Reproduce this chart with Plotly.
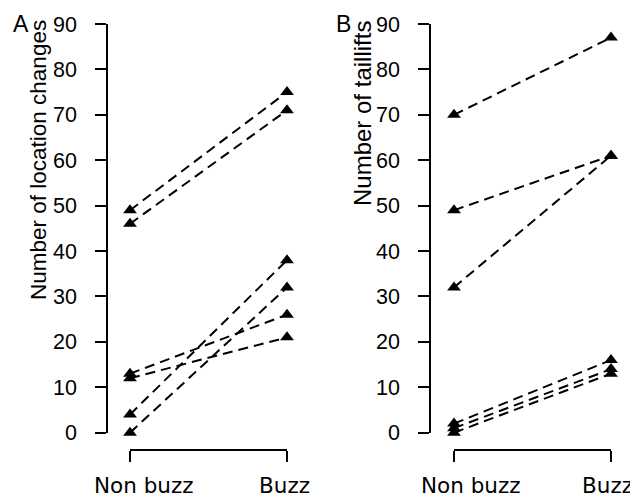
import plotly.graph_objects as go

# ---- data ----
categories = ["Non buzz", "Buzz"]
a_nonbuzz = [49, 46, 13, 12, 4, 0]
a_buzz = [75, 71, 26, 21, 38, 32]
b_nonbuzz = [70, 49, 32, 2, 1, 0]
b_buzz = [87, 61, 61, 16, 14, 13]
y_ticks = [0, 10, 20, 30, 40, 50, 60, 70, 80, 90]
panel_labels = ["A", "B"]
y_titles = ["Number of location changes", "Number of taillifts"]

# page body has an 8px margin: draw a figure that fits the rest of the window
OFF = 8
W, H = 638 - OFF, 497 - OFF
def px(x):
    return (x - OFF) / W
def py(y):
    return 1 - (y - OFF) / H

fig = go.Figure()

line_style = dict(color="black", width=2, dash="10px,6px")
marker_style = dict(symbol="triangle-up", size=12, color="black")

for nb, bz in zip(a_nonbuzz, a_buzz):
    fig.add_trace(go.Scatter(x=[0, 1], y=[nb, bz], mode="lines+markers",
                             line=line_style, marker=marker_style,
                             xaxis="x", yaxis="y", cliponaxis=False,
                             showlegend=False, hoverinfo="skip"))
for nb, bz in zip(b_nonbuzz, b_buzz):
    fig.add_trace(go.Scatter(x=[0, 1], y=[nb, bz], mode="lines+markers",
                             line=line_style, marker=marker_style,
                             xaxis="x2", yaxis="y2", cliponaxis=False,
                             showlegend=False, hoverinfo="skip"))

ydom = [py(432.7), py(24)]
yax_common = dict(range=[0, 90], domain=ydom, anchor="free", showgrid=False,
                  zeroline=False, showline=True, linecolor="black", linewidth=1.5,
                  ticks="outside", ticklen=11, tickwidth=1.5, tickcolor="black",
                  tickvals=y_ticks, ticklabelstandoff=14, automargin=False,
                  tickfont=dict(family="Liberation Sans, Arial, sans-serif", size=21.5, color="black"))
xax_common = dict(range=[0, 1], anchor="free", position=py(450), showgrid=False,
                  zeroline=False, showline=True, linecolor="black", linewidth=1.5,
                  ticks="outside", ticklen=11, tickwidth=1.5, tickcolor="black",
                  tickvals=[0, 1], showticklabels=False, automargin=False)

fig.update_layout(
    template="none",
    width=W, height=H, margin=dict(l=0, r=0, t=0, b=0, pad=0, autoexpand=False),
    paper_bgcolor="white", plot_bgcolor="white",
    xaxis=dict(domain=[px(130), px(287)], **xax_common),
    xaxis2=dict(domain=[px(454), px(611)], **xax_common),
    yaxis=dict(position=px(107), **yax_common),
    yaxis2=dict(position=px(430), **yax_common),
)

annotations = []
# x tick labels
xlabel_font = dict(family="DejaVu Sans, Verdana, sans-serif", size=21.5, color="black")
for xref, shifts in (("x", [14, -3]), ("x2", [17, -4])):
    for i, cat in enumerate(categories):
        annotations.append(dict(x=i, y=py(485), xref=xref, yref="paper", text=cat,
                                showarrow=False, xanchor="center", yanchor="middle",
                                xshift=shifts[i], font=xlabel_font))
# y titles
for (xc, yc), t, sz in zip([(38, 160), (363, 114)], y_titles, [22.5, 24]):
    annotations.append(dict(x=px(xc), y=py(yc), xref="paper", yref="paper", text=t,
                            textangle=-90, showarrow=False, xanchor="center",
                            yanchor="middle",
                            font=dict(family="Liberation Sans, Arial, sans-serif", size=sz, color="black")))
# panel labels
for xc, lab in zip([21, 343], panel_labels):
    annotations.append(dict(x=px(xc), y=py(24), xref="paper", yref="paper", text=lab,
                            showarrow=False, xanchor="center", yanchor="middle",
                            font=dict(family="Liberation Sans, Arial, sans-serif", size=23, color="black")))
fig.update_layout(annotations=annotations)

fig.write_html("out.html")
